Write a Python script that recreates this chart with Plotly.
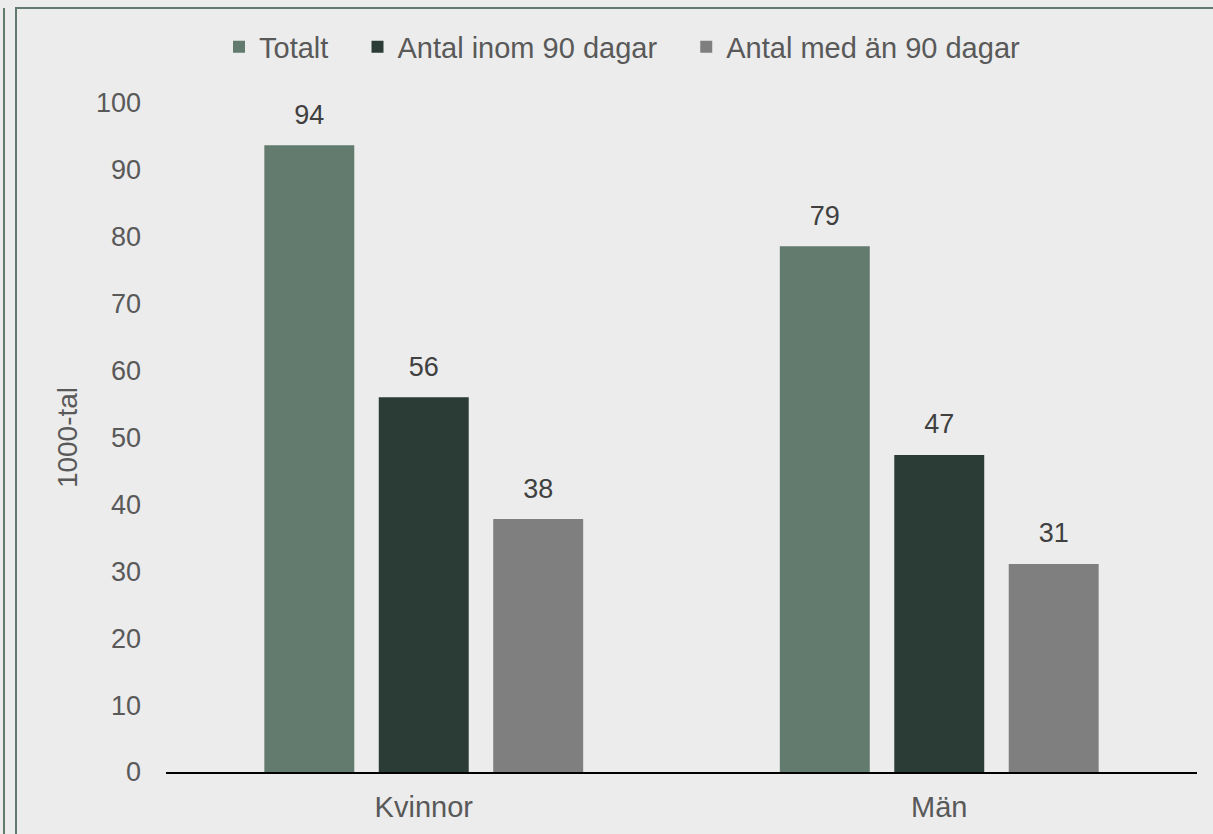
import plotly.graph_objects as go

# Data
categories = ["Kvinnor", "Män"]
totalt = [93.7, 78.6]
inom_90 = [56.0, 47.4]
mer_an_90 = [37.8, 31.1]
series_names = ["Totalt", "Antal inom 90 dagar", "Antal med än 90 dagar"]

W, H = 1213, 834
L, R, T, B = 166, 16, 103, 62
BG = "#ececec"
TXT = "#595959"
FRAME = "#637a6f"
COLORS = ["#637a6f", "#2a3c35", "#7f7f7f"]
FONT = "Liberation Sans, Arial, sans-serif"
GAP = 0.334

fig = go.Figure()
for i, (name, vals, col) in enumerate(zip(series_names, [totalt, inom_90, mer_an_90], COLORS)):
    fig.add_trace(go.Bar(
        x=categories, y=vals, name=name + "\u00a0\u00a0\u00a0", marker_color=col,
        marker_line_width=0, offsetgroup=str(i),
    ))
# Value labels: invisible markers lift the text a little off the bar tops
for i, vals in enumerate([totalt, inom_90, mer_an_90]):
    fig.add_trace(go.Scatter(
        x=categories, y=vals, mode="markers+text", offsetgroup=str(i),
        text=[f"{v:.0f}" for v in vals], textposition="top center",
        marker=dict(size=22, opacity=0), showlegend=False, hoverinfo="skip",
        textfont=dict(size=27, color="#404040", family=FONT), cliponaxis=False,
    ))


def px_x(p):
    return (p - L) / (W - L - R)


def px_y(p):
    return (H - B - p) / (H - T - B)


fig.update_layout(
    width=W, height=H,
    margin=dict(l=L, r=R, t=T, b=B),
    paper_bgcolor=BG, plot_bgcolor=BG,
    font=dict(family=FONT, size=27, color=TXT),
    barmode="group", bargap=GAP, bargroupgap=0.214,
    scattermode="group", scattergap=GAP,
    legend=dict(orientation="h", x=px_x(634), xanchor="center", y=px_y(47), yanchor="middle",
                font=dict(size=29, color=TXT), itemwidth=30, traceorder="normal"),
    xaxis=dict(showline=True, linecolor="#000000", linewidth=2, ticks="",
               showgrid=False, tickfont=dict(size=29, color=TXT), ticklabelstandoff=8),
    yaxis=dict(range=[0, 100], dtick=10, showgrid=False, zeroline=False,
               showline=False, ticks="", ticklabelstandoff=24,
               tickfont=dict(size=27, color=TXT),
               title=dict(text="1000-tal", font=dict(size=28, color=TXT), standoff=10)),
    shapes=[
        dict(type="rect", xref="paper", yref="paper",
             x0=px_x(16), x1=px_x(W + 20), y0=px_y(H + 20), y1=px_y(8),
             line=dict(color=FRAME, width=2), fillcolor="rgba(0,0,0,0)", layer="below"),
        dict(type="line", xref="paper", yref="paper",
             x0=px_x(4), x1=px_x(4), y0=px_y(H + 20), y1=px_y(8),
             line=dict(color=FRAME, width=2)),
    ],
)

fig.write_html("out.html", config={"displayModeBar": False},
               post_script="document.body.style.margin='0';")
